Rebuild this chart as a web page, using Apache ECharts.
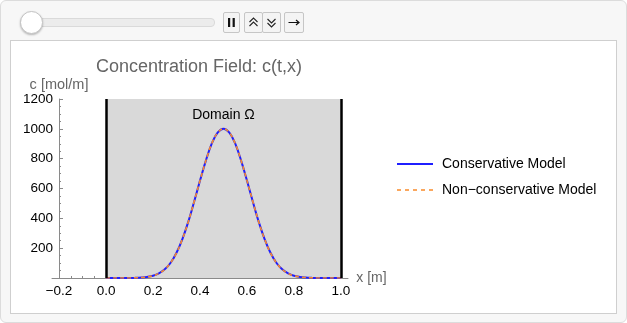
<!DOCTYPE html>
<html>
<head>
<meta charset="utf-8">
<script src="https://cdn.jsdelivr.net/npm/echarts@6/dist/echarts.min.js"></script>
<style>
  html, body { margin: 0; padding: 0; background: #ffffff; }
  #frame {
    position: absolute; left: 0; top: 0; width: 625px; height: 321px;
    background: #f7f7f7; border: 1px solid #dcdcdc; border-radius: 6px;
  }
  #panel {
    position: absolute; left: 10px; top: 40px; width: 605px; height: 272px;
    background: #ffffff; border: 1px solid #cfcfcf;
  }
  #track {
    position: absolute; left: 20px; top: 18px; width: 193px; height: 7px;
    background: #ececec; border: 1px solid #dadada; border-radius: 4px;
  }
  #thumb {
    position: absolute; left: 20px; top: 11px; width: 21px; height: 21px;
    background: #ffffff; border: 1px solid #c4c4c4; border-radius: 50%;
    box-shadow: 0 1px 2px rgba(0,0,0,0.25);
  }
  .btn {
    position: absolute; top: 12px; height: 19px;
    background: #f4f4f4; border: 1px solid #c6c6c6; border-radius: 2px;
  }
  .btn svg { position: absolute; left: 0; top: 0; }
  #chart { position: absolute; left: 0; top: 0; width: 627px; height: 323px; }
</style>
</head>
<body>
<div id="frame"></div>
<div id="panel"></div>
<div id="track"></div>
<div id="thumb"></div>
<div class="btn" style="left:223px;width:15px;">
  <svg width="15" height="19"><rect x="4" y="5" width="2.2" height="9" fill="#111"/><rect x="8.6" y="5" width="2.2" height="9" fill="#111"/></svg>
</div>
<div class="btn" style="left:244px;width:17px;">
  <svg width="17" height="19"><path d="M4.5 9 L8.5 5 L12.5 9 M4.5 13 L8.5 9 L12.5 13" stroke="#222" stroke-width="1.1" fill="none"/></svg>
</div>
<div class="btn" style="left:262px;width:17px;">
  <svg width="17" height="19"><path d="M4.5 6 L8.5 10 L12.5 6 M4.5 10 L8.5 14 L12.5 10" stroke="#222" stroke-width="1.1" fill="none"/></svg>
</div>
<div class="btn" style="left:284px;width:18px;">
  <svg width="18" height="19"><path d="M3.5 9.5 L14 9.5 M11 7 L14 9.5 L11 12" stroke="#111" stroke-width="1.2" fill="none"/></svg>
</div>
<div id="chart"></div>
<script>
// Grid positions along x [m]
const xPositions = [0, 0.025, 0.05, 0.075, 0.1, 0.125, 0.15, 0.175, 0.2, 0.225,
  0.25, 0.275, 0.3, 0.325, 0.35, 0.375, 0.4, 0.425, 0.45, 0.475,
  0.5, 0.525, 0.55, 0.575, 0.6, 0.625, 0.65, 0.675, 0.7, 0.725,
  0.75, 0.775, 0.8, 0.825, 0.85, 0.875, 0.9, 0.925, 0.95, 0.975, 1];

// Concentration c [mol/m] for each model
const conservative = [0, 0, 0, 0, 0, 1, 3, 7, 15, 31,
  58, 102, 169, 261, 376, 511, 653, 787, 901, 974,
  1000, 974, 901, 787, 653, 511, 376, 261, 169, 102,
  58, 31, 15, 7, 3, 1, 0, 0, 0, 0, 0];
const nonConservative = [0, 0, 0, 0, 0, 1, 3, 7, 15, 31,
  58, 102, 169, 261, 376, 511, 653, 787, 901, 974,
  1000, 974, 901, 787, 653, 511, 376, 261, 169, 102,
  58, 31, 15, 7, 3, 1, 0, 0, 0, 0, 0];

// Domain boundaries and axis ticks
const domainEdges = [0, 1];
const cMax = 1200;
const xMajorTicks = [-0.2, 0, 0.2, 0.4, 0.6, 0.8, 1.0];
const xMinorTicks = [-0.15, -0.1, -0.05, 0.05, 0.1, 0.15, 0.25, 0.3, 0.35,
  0.45, 0.5, 0.55, 0.65, 0.7, 0.75, 0.85, 0.9, 0.95];
const xRange = [-0.23, 1.03];

const FONT = '"Liberation Sans", Arial, Helvetica, sans-serif';
const AXIS_GRAY = '#8a8a8a';
const BLUE = '#1f1fff';
const ORANGE = '#f98a2a';

function pairs(xs, ys) { return xs.map((x, i) => [x, ys[i]]); }
function fmtX(v) {
  const s = Math.abs(v).toFixed(1);
  return v < -1e-9 ? '\u2212' + s : s;
}

const chart = echarts.init(document.getElementById('chart'), null, { renderer: 'canvas' });
chart.setOption({
  backgroundColor: 'transparent',
  animation: false,
  title: {
    text: 'Concentration Field: c(t,x)',
    left: 96, top: 58, padding: 0,
    textStyle: { fontFamily: FONT, fontSize: 18, fontWeight: 'normal', color: '#666666' }
  },
  legend: {
    orient: 'vertical', left: 396, top: 157, padding: 0,
    itemWidth: 36, itemHeight: 12, itemGap: 12,
    itemStyle: { color: 'transparent', borderWidth: 0, opacity: 0 },
    textStyle: { fontFamily: FONT, fontSize: 14, color: '#000000', padding: [0, 0, 0, 4] },
    data: [
      { name: 'Conservative Model', lineStyle: { color: BLUE, width: 2, type: 'solid' } },
      { name: 'Non\u2212conservative Model', lineStyle: { color: ORANGE, width: 1.6, type: [4, 4] } }
    ]
  },
  grid: { left: 52, top: 99, width: 296, height: 179, containLabel: false },
  xAxis: [{
    type: 'value', min: xRange[0], max: xRange[1],
    name: 'x [m]', nameLocation: 'end', nameGap: 5,
    nameTextStyle: { fontFamily: FONT, fontSize: 14, color: '#666666', padding: [8, 0, 0, 0] },
    axisLine: { onZero: true, lineStyle: { color: AXIS_GRAY, width: 1 } },
    axisTick: { show: true, inside: true, length: 4, customValues: xMajorTicks, lineStyle: { color: AXIS_GRAY } },
    axisLabel: { customValues: xMajorTicks, formatter: fmtX, margin: 6,
      fontFamily: FONT, fontSize: 13.5, color: '#000000' },
    splitLine: { show: false }
  }, {
    type: 'value', min: xRange[0], max: xRange[1], position: 'bottom',
    axisLine: { show: false },
    axisTick: { show: true, inside: true, length: 2, customValues: xMinorTicks, lineStyle: { color: AXIS_GRAY } },
    axisLabel: { show: false },
    splitLine: { show: false }
  }],
  yAxis: {
    type: 'value', min: 0, max: cMax, interval: 200, offset: -7,
    name: 'c [mol/m]', nameLocation: 'end', nameGap: 5,
    nameTextStyle: { fontFamily: FONT, fontSize: 14.5, color: '#666666', align: 'center' },
    axisLine: { show: true, onZero: false, lineStyle: { color: AXIS_GRAY, width: 1 } },
    axisTick: { show: true, inside: true, length: 4, lineStyle: { color: AXIS_GRAY } },
    minorTick: { show: true, splitNumber: 4, length: 2, lineStyle: { color: AXIS_GRAY } },
    axisLabel: { margin: 6, fontFamily: FONT, fontSize: 13.5, color: '#000000',
      formatter: v => (v === 0 ? '' : String(v)) },
    splitLine: { show: false }, minorSplitLine: { show: false }
  },
  series: [{
    name: 'Conservative Model', type: 'line', xAxisIndex: 0,
    data: pairs(xPositions, conservative),
    showSymbol: false, symbol: 'none', smooth: 0.4, z: 3,
    lineStyle: { color: BLUE, width: 2 },
    itemStyle: { color: BLUE },
    markArea: {
      silent: true,
      itemStyle: { color: '#d9d9d9' },
      label: { show: true, position: 'insideTop', distance: 9, fontFamily: FONT, fontSize: 14, color: '#000000' },
      data: [[{ name: 'Domain \u03A9', xAxis: domainEdges[0], yAxis: 0 }, { xAxis: domainEdges[1], yAxis: cMax }]]
    },
    markLine: {
      silent: true, symbol: 'none', label: { show: false },
      lineStyle: { color: '#000000', width: 2.5, type: 'solid' },
      data: domainEdges.map(e => ({ xAxis: e }))
    }
  }, {
    name: 'Non\u2212conservative Model', type: 'line', xAxisIndex: 0,
    data: pairs(xPositions, nonConservative),
    showSymbol: false, symbol: 'none', smooth: 0.4, z: 4,
    lineStyle: { color: ORANGE, width: 1.6, type: [4, 3] },
    itemStyle: { color: ORANGE }
  }]
});
</script>
</body>
</html>
